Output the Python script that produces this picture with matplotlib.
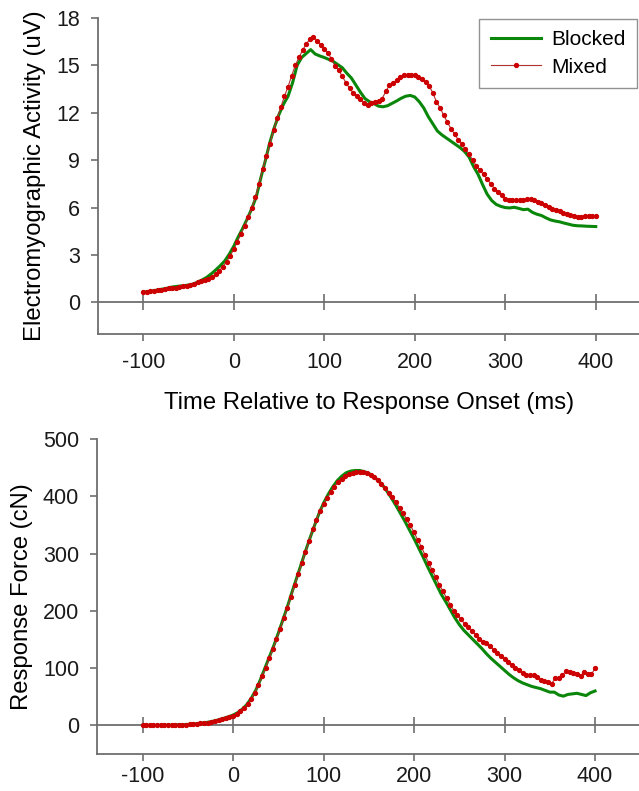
import numpy as np
import matplotlib.pyplot as plt

plt.rcParams['font.family'] = ['Liberation Sans', 'DejaVu Sans']
plt.rcParams['axes.unicode_minus'] = False

# time grids (ms relative to response onset)
t_mixed = np.arange(-100, 401, 4)
t_blocked = np.arange(-100, 401, 5)

# EMG (uV)
emg_blocked = [0.65, 0.68, 0.72, 0.78, 0.83, 0.88, 0.95, 1.00, 1.03, 1.06,
               1.10, 1.16, 1.28, 1.42, 1.58, 1.80, 2.05, 2.32, 2.62, 3.05,
               3.55, 4.15, 4.70, 5.30, 5.95, 6.70, 7.90, 9.00, 10.15, 11.10,
               11.90, 12.55, 13.05, 13.90, 15.00, 15.50, 15.75, 16.00, 15.72, 15.60,
               15.50, 15.38, 15.25, 15.05, 14.85, 14.50, 14.20, 13.75, 13.30, 12.90,
               12.70, 12.58, 12.42, 12.38, 12.45, 12.60, 12.75, 12.92, 13.05, 13.10,
               13.00, 12.70, 12.30, 11.75, 11.30, 10.85, 10.60, 10.40, 10.20, 10.00,
               9.80, 9.55, 9.20, 8.60, 8.10, 7.45, 6.85, 6.45, 6.20, 6.08,
               6.00, 5.98, 6.02, 5.95, 5.87, 5.90, 5.70, 5.58, 5.50, 5.35,
               5.22, 5.15, 5.10, 5.02, 4.95, 4.88, 4.85, 4.84, 4.82, 4.81,
               4.80]
emg_mixed = [0.65, 0.68, 0.70, 0.73, 0.76, 0.80, 0.84, 0.88, 0.90, 0.93,
             0.97, 1.01, 1.06, 1.12, 1.19, 1.26, 1.33, 1.41, 1.50, 1.62,
             1.78, 2.00, 2.27, 2.58, 2.95, 3.35, 3.85, 4.35, 4.85, 5.40,
             6.00, 6.65, 7.50, 8.45, 9.25, 10.05, 10.90, 11.65, 12.35, 13.05,
             13.65, 14.35, 15.00, 15.50, 15.95, 16.35, 16.65, 16.80, 16.57, 16.30,
             16.05, 15.80, 15.40, 14.95, 14.70, 14.30, 13.90, 13.55, 13.25, 13.05,
             12.85, 12.65, 12.52, 12.62, 12.70, 12.75, 12.90, 13.35, 13.75, 13.90,
             14.05, 14.25, 14.38, 14.40, 14.40, 14.38, 14.28, 14.15, 13.95, 13.70,
             13.25, 12.70, 12.30, 11.85, 11.40, 11.00, 10.65, 10.30, 10.00, 9.70,
             9.40, 9.00, 8.65, 8.35, 8.10, 7.80, 7.50, 7.20, 7.00, 6.80,
             6.55, 6.45, 6.45, 6.45, 6.45, 6.45, 6.52, 6.57, 6.48, 6.36,
             6.26, 6.16, 6.02, 5.92, 5.84, 5.76, 5.68, 5.60, 5.50, 5.45,
             5.43, 5.43, 5.44, 5.44, 5.45, 5.45]

# response force (cN)
force_blocked = [0, 0, 0, 0, 0.2, 0.3, 0.5, 0.7, 0.9, 1.2,
                 1.6, 2.2, 2.9, 3.8, 4.9, 6.2, 8.0, 10.0, 12.5, 15.0,
                 18, 22, 28, 36, 47, 61, 79, 99, 119, 139,
                 161, 184, 207, 232, 256, 280, 304, 327, 349, 370,
                 388, 403, 416, 427, 435, 441, 444, 445, 445, 443,
                 440, 435, 428, 420, 409, 397, 384, 370, 356, 341,
                 326, 310, 294, 277, 261, 245, 229, 216, 202, 188,
                 176, 166, 158, 150, 142, 134, 125, 117, 110, 103,
                 96, 89, 83, 78, 74, 71, 68, 66, 64, 61,
                 58, 58, 53, 51, 54, 55, 56, 54, 52, 57,
                 60]
force_mixed = [0, 0, 0, 0, 0, 0.2, 0.3, 0.4, 0.5, 0.6,
               0.8, 1.0, 1.3, 1.6, 2.1, 2.7, 3.4, 4.2, 5.0, 6.0,
               7.3, 8.8, 10.5, 12.5, 14.5, 17, 20, 24.5, 30, 37,
               46, 57, 71, 86, 101, 117, 133, 150, 168, 187,
               205, 225, 245, 264, 284, 303, 322, 342, 359, 374,
               387, 397, 407, 417, 425, 431, 436, 439, 441, 443,
               443, 442, 440, 437, 433, 428, 421, 414, 406, 398,
               390, 380, 370, 360, 349, 337, 324, 312, 298, 284,
               271, 259, 245, 234, 222, 211, 200, 192, 185, 177,
               171, 165, 158, 151, 146, 143, 138, 132, 126, 121,
               116, 111, 106, 101, 96, 91, 88, 88, 88, 84,
               80, 78, 76, 73, 82, 82, 88, 95, 93, 92,
               90, 86, 94, 89, 89, 100]

xticks = [-100, 0, 100, 200, 300, 400]
grey = '#6e6e6e'

fig = plt.figure(figsize=(6.39, 7.91), dpi=100)
ax1 = fig.add_axes([98 / 639, 1 - 334 / 791, 543 / 639, 316 / 791])
ax2 = fig.add_axes([97.3 / 639, 1 - 754 / 791, 543 / 639, 315 / 791])


def style(ax, ymin, ymax, yticks, xpad):
    ax.set_xlim(-150, 450)
    ax.set_ylim(ymin, ymax)
    ax.set_xticks(xticks)
    ax.set_yticks(yticks)
    ax.spines['top'].set_visible(False)
    ax.spines['right'].set_visible(False)
    for s in ['left', 'bottom']:
        ax.spines[s].set_color(grey)
        ax.spines[s].set_linewidth(1.3)
    ax.tick_params(direction='out', length=5, width=1.2, color=grey,
                   labelsize=15.5, labelcolor='#1a1a1a')
    ax.tick_params(axis='y', pad=8)
    ax.tick_params(axis='x', pad=xpad)
    # zero line with crossing ticks
    zero = ax.secondary_xaxis((0 - ymin) / (ymax - ymin))
    zero.set_xticks(xticks)
    zero.tick_params(direction='inout', length=11, width=1.2, color=grey,
                     labelbottom=False, labeltop=False)
    for s in zero.spines.values():
        s.set_color(grey)
        s.set_linewidth(1.3)


ax1.plot(t_blocked, emg_blocked, color='#0a870a', lw=2.2, label='Blocked', zorder=3)
ax1.plot(t_mixed, emg_mixed, color='#b03030', lw=0.8, marker='o', ms=2.8,
         mfc='#cc0000', mec='#cc0000', label='Mixed', zorder=4)
style(ax1, -2, 18, [0, 3, 6, 9, 12, 15, 18], 8)
ax1.set_ylabel('Electromyographic Activity (uV)', fontsize=17.2, labelpad=7)
ax1.set_xlabel('Time Relative to Response Onset (ms)', fontsize=17.2, labelpad=14)
leg = ax1.legend(loc='upper right', bbox_to_anchor=(0.993, 0.997), borderaxespad=0,
                 fancybox=False, edgecolor='#777777', fontsize=15, handlelength=2.4,
                 handletextpad=0.5, borderpad=0.55, labelspacing=0.4)
leg.get_frame().set_linewidth(1.0)

ax2.plot(t_blocked, force_blocked, color='#0a870a', lw=2.2, zorder=3)
ax2.plot(t_mixed, force_mixed, color='#b03030', lw=0.8, marker='o', ms=2.8,
         mfc='#cc0000', mec='#cc0000', zorder=4)
style(ax2, -50, 500, [0, 100, 200, 300, 400, 500], 4)
ax2.set_ylabel('Response Force (cN)', fontsize=17.2, labelpad=7)

fig.savefig('out.png', dpi=100)
